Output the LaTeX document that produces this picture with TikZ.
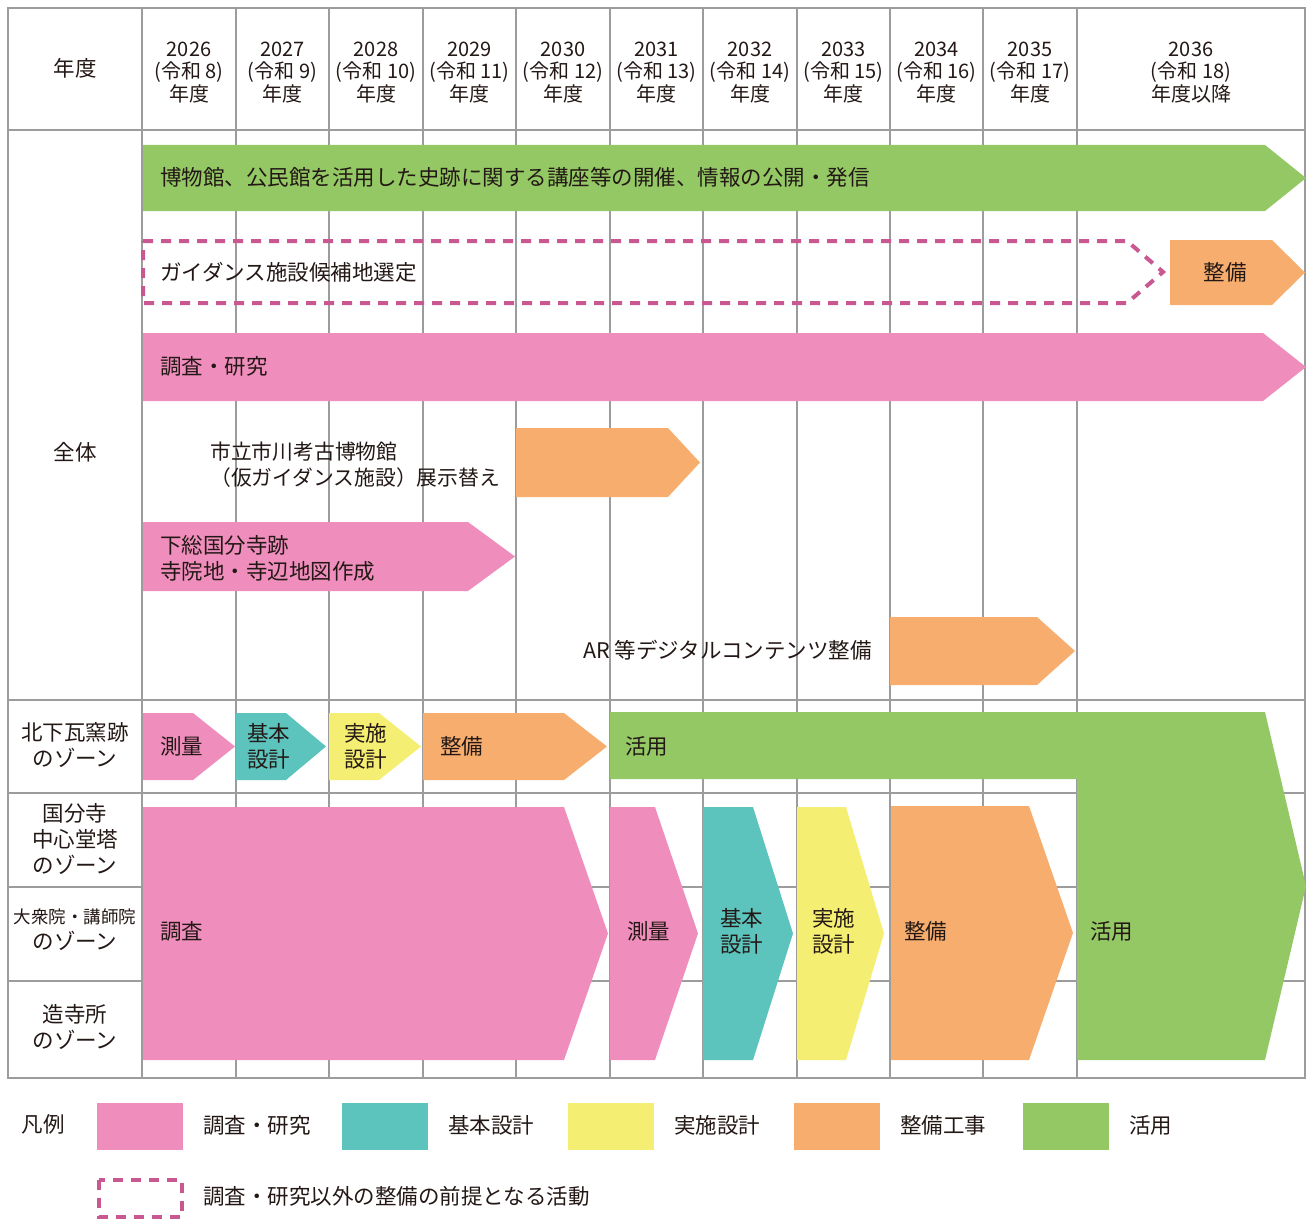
\documentclass[tikz,border=0pt]{standalone}
\usepackage{fontspec}
\setmainfont{Noto Sans CJK JP}
\usetikzlibrary{positioning}
\definecolor{PlanGreen}{HTML}{93C864}
\definecolor{PlanPink}{HTML}{EF8EBC}
\definecolor{PlanTeal}{HTML}{5CC3BD}
\definecolor{PlanYellow}{HTML}{F4EE72}
\definecolor{PlanOrange}{HTML}{F6AD6E}
\definecolor{PlanDash}{HTML}{C95890}
\definecolor{PlanGrid}{HTML}{9C9C9C}
\definecolor{PlanInk}{HTML}{231815}
\tikzset{gridline/.style={draw=PlanGrid,line width=1.1pt}, barG/.style={fill=PlanGreen}, barP/.style={fill=PlanPink}, barT/.style={fill=PlanTeal}, barY/.style={fill=PlanYellow}, barO/.style={fill=PlanOrange}, dashbox/.style={draw=PlanDash,line width=4pt,dash pattern=on 10pt off 8pt}, lbl/.style={anchor=west,inner sep=0pt,text=PlanInk,align=left,font=\fontsize{21.5}{26}\selectfont}, hdr/.style={inner sep=0pt,text=PlanInk,align=center,font=\fontsize{20}{22.5}\selectfont}, zone/.style={hdr,font=\fontsize{21.5}{26}\selectfont}}
% arrow bar: style, left x, top y, end of flat part, tip x, bottom y
\newcommand{\chbar}[6]{\fill[#1] (#2,#3) -- (#4,#3) -- (#5,{(#3+#6)/2}) -- (#4,#6) -- (#2,#6) -- cycle;}

\begin{document}
\begin{tikzpicture}[x=1pt,y=-1pt]
\useasboundingbox (0,0) rectangle (1310,1220);
% table grid
\draw[gridline] (8,8) rectangle (1305,1078);
\foreach \gx in {142,236,329,423,516,610,703,797,890,983,1077} \draw[gridline] (\gx,8) -- (\gx,1078);
\foreach \gy in {130,700,793,887,981} \draw[gridline] (8,\gy) -- (1305,\gy);
% header
\node[zone] (hyear) at (75,68) {年度};
\foreach \cx/\yr/\rw in {189/2026/8,282.5/2027/9,376/2028/10,469.5/2029/11,563/2030/12,656.5/2031/13,750/2032/14,843.5/2033/15,936.5/2034/16,1030/2035/17} \node[hdr] (y\yr) at (\cx,72.5) {\yr\\(令和 \rw)\\年度};
\node[hdr] (y2036) at (1191,72.5) {2036\\(令和 18)\\年度以降};
% row labels
\node[zone] (rall) at (75,452) {全体};\node[zone] (rkita) at (75,745) {北下瓦窯跡\\のゾーン};\node[zone] (rkon) at (75,839) {国分寺\\中心堂塔\\のゾーン};
\node[zone] (rdai) at (75,930) {{\fontsize{17.5}{26}\selectfont 大衆院・講師院}\\のゾーン};\node[zone] (rzou) at (75,1027) {造寺所\\のゾーン};
% whole-site bars
\chbar{barG}{143}{145}{1265}{1306}{211}\node[lbl] (koza) at (160,177) {博物館、公民館を活用した史跡に関する講座等の開催、情報の公開・発信};
\draw[dashbox] (143,241) -- (1127,241) -- (1163,272) -- (1127,303) -- (143,303) -- cycle;\node[lbl] (guide) at (160,272) {ガイダンス施設候補地選定};
\chbar{barO}{1170}{240}{1272}{1305}{305}\node[zone] (gseibi) at (1225,272) {整備};
\chbar{barP}{143}{333}{1263}{1306}{401}\node[lbl] (chosa) at (160,366) {調査・研究};
\chbar{barO}{516}{428}{668}{700}{497}\node[lbl,font=\fontsize{20.8}{26}\selectfont] (tenji) at (210,465) {市立市川考古博物館\\（仮ガイダンス施設）展示替え};
\chbar{barP}{143}{522}{468}{515}{591}\node[lbl] (chizu) at (160,558) {下総国分寺跡\\寺院地・寺辺地図作成};
\chbar{barO}{890}{617}{1037}{1075}{685}\node[lbl,anchor=east] (ar) at (872,650) {AR 等デジタルコンテンツ整備};
% Kitashimo kiln zone
\chbar{barP}{143}{713}{193}{235}{780}\node[lbl] (ksok) at (160,746) {測量};
\chbar{barT}{236}{713}{286}{326}{780}\node[lbl] (kkih) at (247,746) {基本\\設計};
\chbar{barY}{329}{713}{379}{421}{780}\node[lbl] (kjis) at (344,746) {実施\\設計};
\chbar{barO}{423}{713}{564}{607}{780}\node[lbl] (kset) at (440,746) {整備};
\fill[barG] (610,712) -- (1265,712) -- (1306,886) -- (1265,1060) -- (1077,1060) -- (1077,779) -- (610,779) -- cycle;
\node[lbl] (kkat) at (625,746) {活用};\node[lbl] (zkat) at (1090,931) {活用};
% temple zones
\chbar{barP}{143}{807}{564}{608}{1060}\node[lbl] (zcho) at (160,931) {調査};
\chbar{barP}{610}{807}{655}{698}{1060}\node[lbl] (zsok) at (627,931) {測量};
\chbar{barT}{703}{807}{753}{793}{1060}\node[lbl] (zkih) at (720,931) {基本\\設計};
\chbar{barY}{797}{807}{846}{884}{1060}\node[lbl] (zjis) at (812,931) {実施\\設計};
\chbar{barO}{891}{806}{1029}{1073}{1060}\node[lbl] (zset) at (904,931) {整備};
% legend
\node[zone] (hanrei) at (43,1124) {凡例};
\foreach \lx/\ls/\lt in {97/barP/調査・研究,342/barT/基本設計,568/barY/実施設計,794/barO/整備工事,1023/barG/活用} {\fill[\ls] (\lx,1103) rectangle (\lx+86,1150);\node[lbl] (l\ls) at (\lx+106,1125) {\lt};}
\draw[dashbox] (99,1180) rectangle (182,1217);\node[lbl] (ldash) at (203,1196) {調査・研究以外の整備の前提となる活動};
\end{tikzpicture}
\end{document}
